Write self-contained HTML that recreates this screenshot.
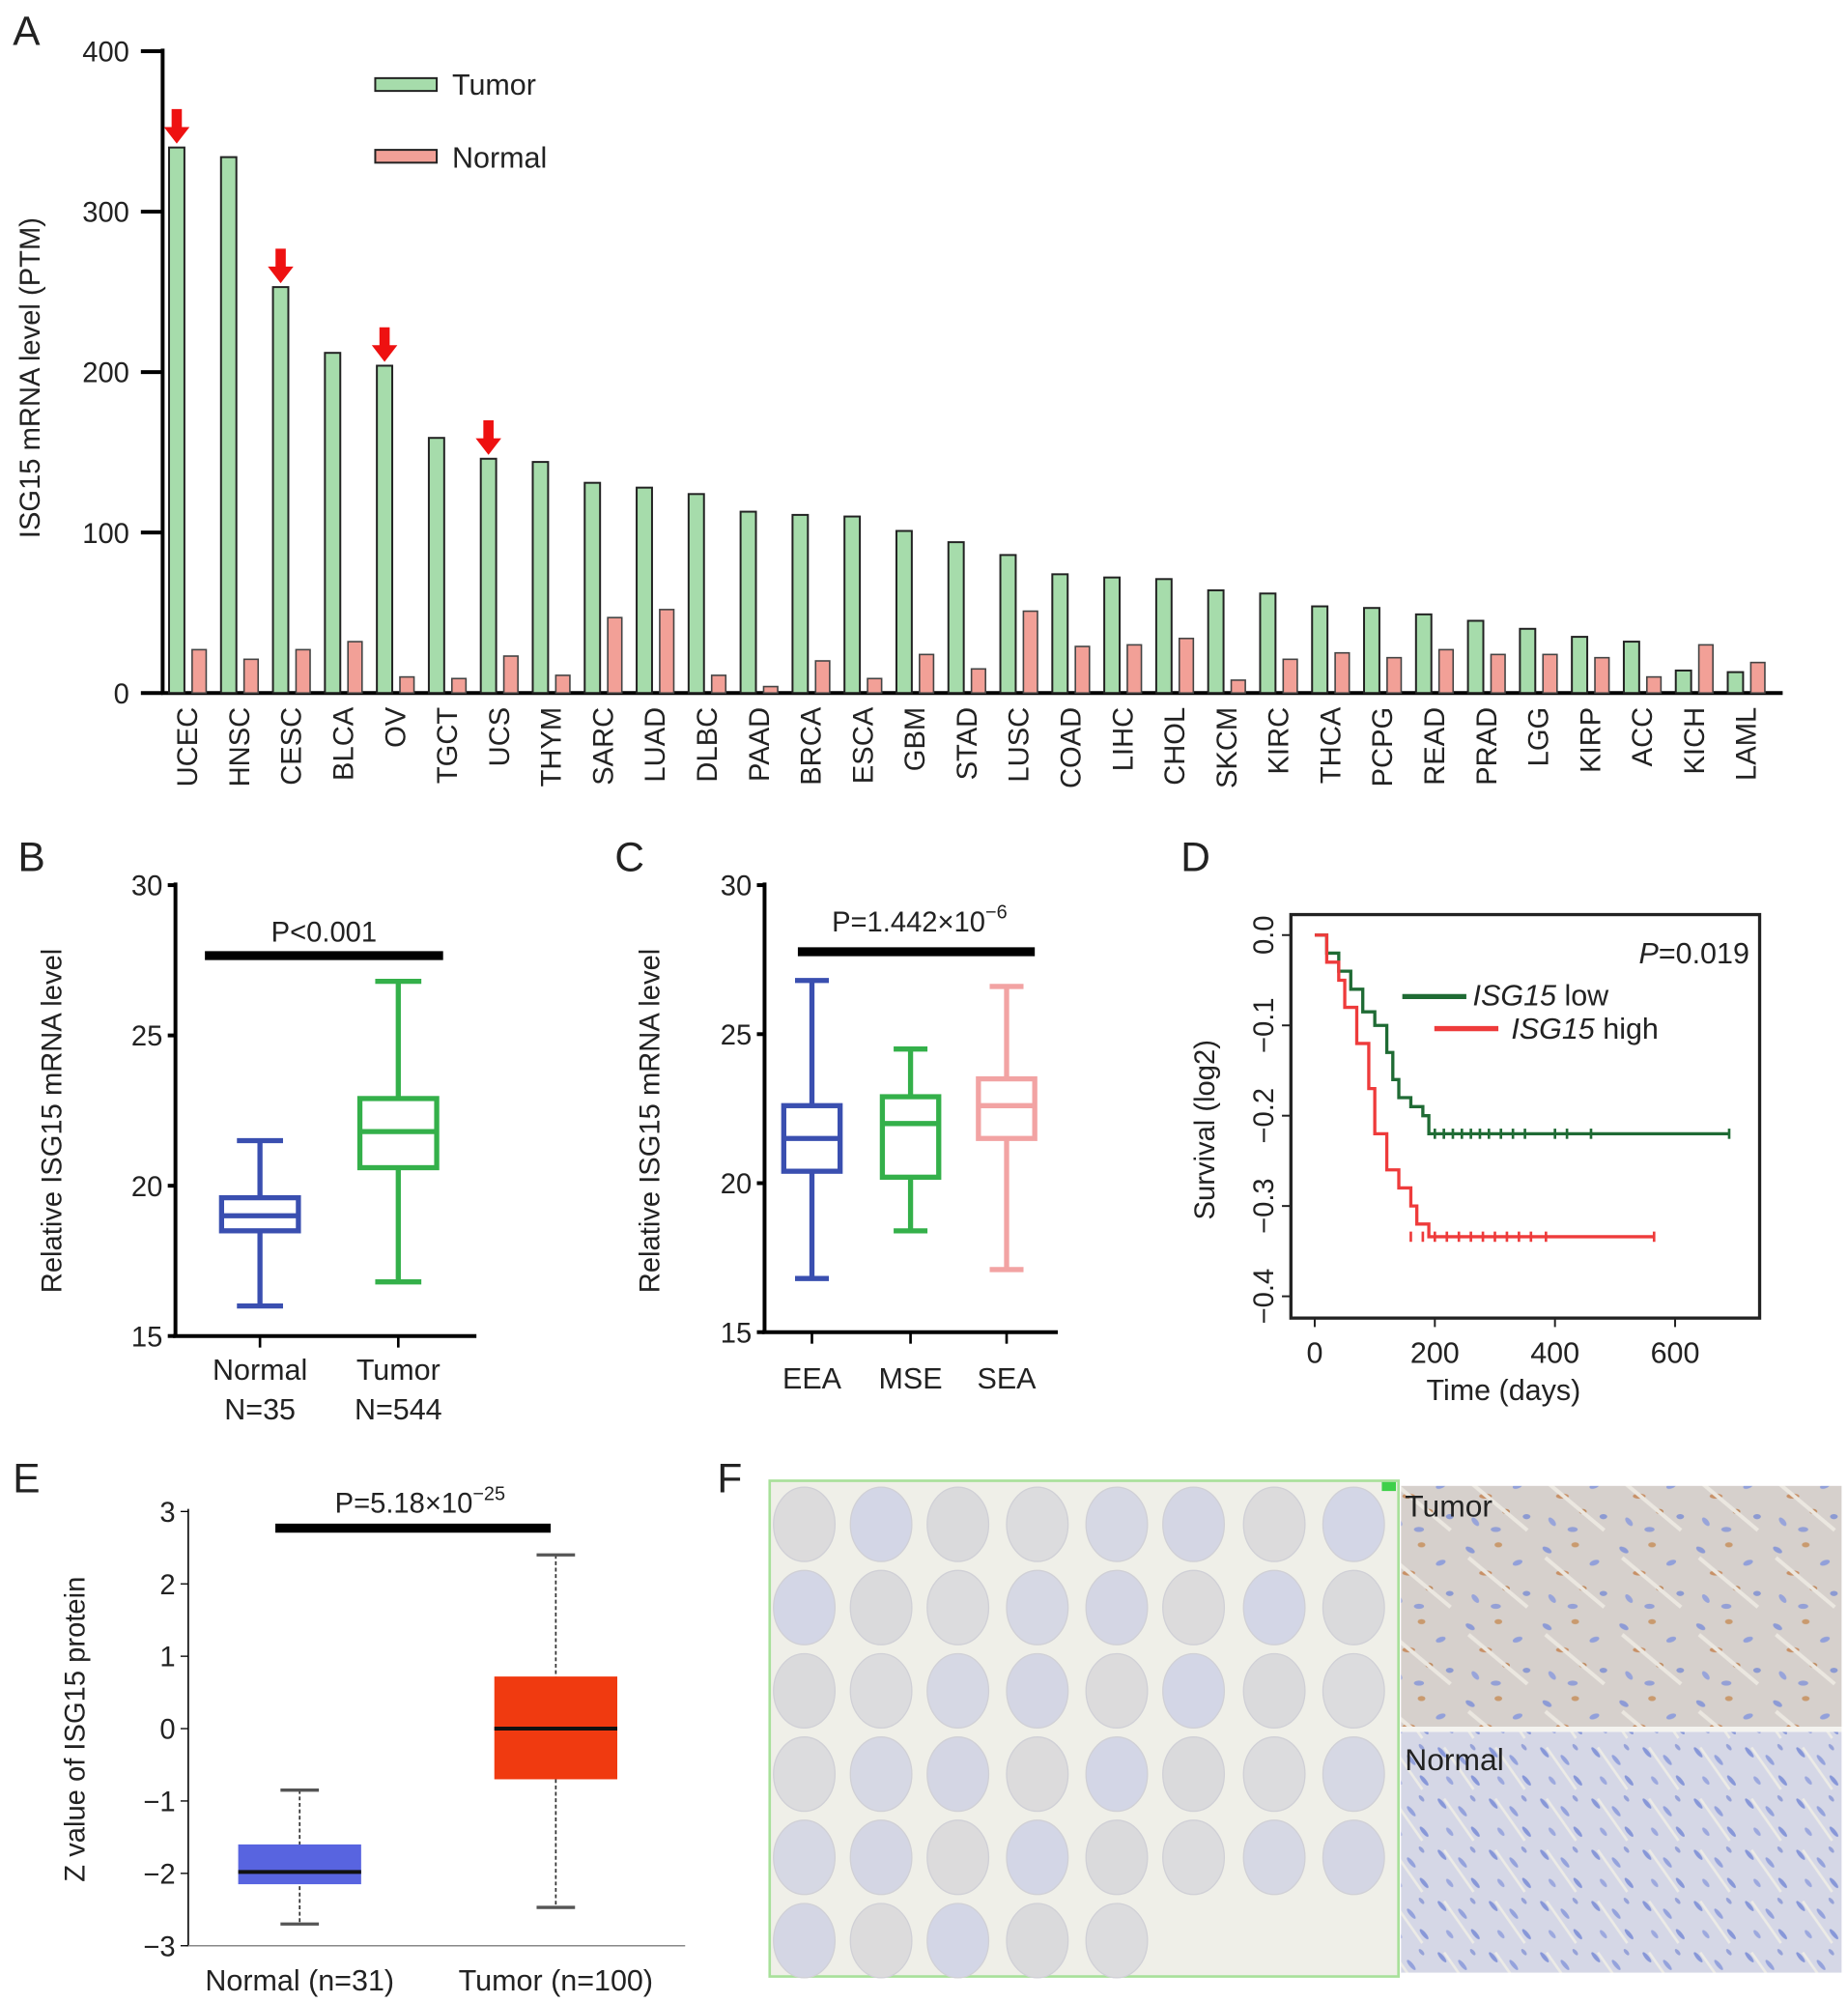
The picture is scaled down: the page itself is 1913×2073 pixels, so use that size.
<!DOCTYPE html>
<html><head><meta charset="utf-8"><style>
html,body{margin:0;padding:0;background:#fff}
svg{display:block}
text{font-family:"Liberation Sans",Arial,sans-serif;fill:#222}
</style></head><body>
<svg id="fig" width="1913" height="2073" viewBox="0 0 1443 1563.7" xmlns="http://www.w3.org/2000/svg">
<defs>
<pattern id="tumorTex" width="60" height="60" patternUnits="userSpaceOnUse">
<rect width="60" height="60" fill="#d6d0cc"/>
<ellipse cx="8" cy="10" rx="4" ry="2" fill="#8d9bd6" transform="rotate(30 8 10)"/>
<ellipse cx="30" cy="6" rx="3" ry="2" fill="#c99a6e"/>
<ellipse cx="45" cy="20" rx="4" ry="2" fill="#92a0da" transform="rotate(-20 45 20)"/>
<ellipse cx="20" cy="28" rx="5" ry="2" fill="#c89066"/>
<ellipse cx="52" cy="44" rx="3" ry="2" fill="#8c9ad2"/>
<ellipse cx="12" cy="48" rx="4" ry="2" fill="#98a4da" transform="rotate(50 12 48)"/>
<ellipse cx="36" cy="40" rx="3" ry="2" fill="#bf8b60"/>
<ellipse cx="28" cy="54" rx="4" ry="2" fill="#94a0d6"/>
<rect x="0" y="34" width="60" height="3" fill="#ebe7e0" transform="rotate(40 30 35)"/>
</pattern>
<pattern id="normalTex" width="40" height="40" patternUnits="userSpaceOnUse">
<rect width="40" height="40" fill="#d5d7e6"/>
<ellipse cx="6" cy="8" rx="5" ry="1.6" fill="#8797d8" transform="rotate(50 6 8)"/>
<ellipse cx="22" cy="14" rx="5" ry="1.6" fill="#94a2dc" transform="rotate(50 22 14)"/>
<ellipse cx="32" cy="30" rx="5" ry="1.6" fill="#8797d8" transform="rotate(50 32 30)"/>
<ellipse cx="12" cy="30" rx="4" ry="1.6" fill="#9ca8de" transform="rotate(50 12 30)"/>
<ellipse cx="30" cy="4" rx="3" ry="1.4" fill="#96a2d8" transform="rotate(50 30 4)"/>
<rect x="0" y="20" width="40" height="2" fill="#ecebe6" transform="rotate(55 20 20)"/>
</pattern>
</defs>

<text x="10" y="35" font-size="32">A</text>
<text x="14" y="680" font-size="32">B</text>
<text x="480" y="680" font-size="32">C</text>
<text x="922" y="680" font-size="32">D</text>
<text x="10" y="1165" font-size="32">E</text>
<text x="560" y="1165" font-size="32">F</text>

<g id="panelA"></g>
<g id="panelB"></g>
<g id="panelC"></g>
<g id="panelD"></g>
<g id="panelE"></g>

<g>
<rect x="601" y="1156" width="491" height="387" fill="#efefe8" stroke="#a8e09a" stroke-width="2"/>
<rect x="1079" y="1157" width="11" height="7" fill="#3fd04a"/>
<g id="tma"></g>
<rect x="1094" y="1160" width="344" height="188" fill="url(#tumorTex)"/>
<rect x="1094" y="1352" width="344" height="188" fill="url(#normalTex)"/>
<rect x="1094" y="1348" width="344" height="4" fill="#f4f3ef"/>
<text x="1097" y="1184" font-size="24" fill="#111">Tumor</text>
<text x="1097" y="1382" font-size="24" fill="#111">Normal</text>
</g>
</svg>
<script>
const NS="http://www.w3.org/2000/svg";
function mk(parent,tag,attrs,txt){const e=document.createElementNS(NS,tag);for(const k in attrs)e.setAttribute(k,attrs[k]);if(txt!==undefined)e.textContent=txt;parent.appendChild(e);return e;}

const catsA=["UCEC","HNSC","CESC","BLCA","OV","TGCT","UCS","THYM","SARC","LUAD","DLBC","PAAD","BRCA","ESCA","GBM","STAD","LUSC","COAD","LIHC","CHOL","SKCM","KIRC","THCA","PCPG","READ","PRAD","LGG","KIRP","ACC","KICH","LAML"];
const tumorA=[340,334,253,212,204,159,146,144,131,128,124,113,111,110,101,94,86,74,72,71,64,62,54,53,49,45,40,35,32,14,13];
const normalA=[27,21,27,32,10,9,23,11,47,52,11,4,20,9,24,15,51,29,30,34,8,21,25,22,27,24,24,22,10,30,19];
const arrowCatsA=["UCEC","CESC","OV","UCS"];
const ticksA=[0,100,200,300,400];

(function(){
 const g=document.getElementById('panelA');
 const y=v=>541-v*(501/400);
 const x=i=>138+i*40.57;
 mk(g,'line',{x1:127,y1:38,x2:127,y2:542,stroke:'#000','stroke-width':3});
 mk(g,'line',{x1:126,y1:541,x2:1392,y2:541,stroke:'#000','stroke-width':3});
 ticksA.forEach(t=>{
  const l=mk(g,'line',{x1:110,y1:y(t),x2:127,y2:y(t),stroke:'#000','stroke-width':3});
  
  const tx=mk(g,'text',{x:101,y:y(t)+8,'font-size':22,'text-anchor':'end'},String(t));
  
 });
 const yl=mk(g,'text',{x:0,y:0,'font-size':22,'text-anchor':'middle',transform:'translate(31,295) rotate(-90)'},'ISG15 mRNA level (PTM)');
 
 catsA.forEach((c,i)=>{
  const bt=mk(g,'rect',{x:x(i)-6,y:y(tumorA[i]),width:12,height:y(0)-y(tumorA[i]),fill:'#a6dcab',stroke:'#222','stroke-width':1.5});
  
  const bn=mk(g,'rect',{x:x(i)+12,y:y(normalA[i]),width:11,height:y(0)-y(normalA[i]),fill:'#f2a097',stroke:'#444','stroke-width':1.2});
  
  const tl=mk(g,'text',{x:0,y:0,'font-size':22,'text-anchor':'end',transform:`translate(${x(i)+16},552) rotate(-90)`},c);
  
  if(arrowCatsA.includes(c)){
   const yt=y(tumorA[i]);
   const a=mk(g,'path',{d:`M${x(i)-4},${yt-30} h8 v14 h6 l-10,13 l-10,-13 h6 z`,fill:'#ee1111'});
   
  }
 });
 const l1=mk(g,'rect',{x:293,y:61,width:48,height:10,fill:'#a6dcab',stroke:'#222','stroke-width':1.5});
 
 const l1t=mk(g,'text',{x:353,y:74,'font-size':23},'Tumor');
 
 const l2=mk(g,'rect',{x:293,y:117,width:48,height:10,fill:'#f2a097',stroke:'#222','stroke-width':1.5});
 
 const l2t=mk(g,'text',{x:353,y:131,'font-size':23},'Normal');
 
})();

const groupsB=["Normal","Tumor"];
const subLabelsB=["N=35","N=544"];
const minB=[16.0,16.8], q1B=[18.5,20.6], medB=[19.0,21.8], q3B=[19.6,22.9], maxB=[21.5,26.8];
const ticksB=[15,20,25,30];
const groupsC=["EEA","MSE","SEA"];
const minC=[16.8,18.4,17.1], q1C=[20.4,20.2,21.5], medC=[21.5,22.0,22.6], q3C=[22.6,22.9,23.5], maxC=[26.8,24.5,26.6];
const ticksC=[15,20,25,30];

function boxPanel(id,opt){
 const g=document.getElementById(id);
 const y=v=>opt.y0-(v-opt.vmin)*(opt.y0-opt.y1)/(opt.vmax-opt.vmin);
 mk(g,'line',{x1:opt.ax,y1:opt.y1-2,x2:opt.ax,y2:opt.y0,stroke:'#000','stroke-width':opt.axw});
 mk(g,'line',{x1:opt.ax-2,y1:opt.y0,x2:opt.axEnd,y2:opt.y0,stroke:opt.xcol||'#000','stroke-width':opt.axw});
 opt.ticks.forEach(t=>{
  const l=mk(g,'line',{x1:opt.ax-6,y1:y(t),x2:opt.ax,y2:y(t),stroke:'#000','stroke-width':opt.axw>2?3:1});
  
  const tx=mk(g,'text',{x:opt.ax-10,y:y(t)+8,'font-size':22,'text-anchor':'end'},opt.tickFmt?opt.tickFmt(t):String(t));
  
 });
 const yl=mk(g,'text',{x:0,y:0,'font-size':22,'text-anchor':'middle',transform:`translate(${opt.ylx},${opt.yly}) rotate(-90)`},opt.ytitle);
 
 opt.groups.forEach((gname,i)=>{
  const cx=opt.xs[i], w=opt.bw, col=opt.colors[i];
  const name=gname.toLowerCase();
  if(opt.style==='prism'){
   const wh=mk(g,'line',{x1:cx,y1:y(opt.max[i]),x2:cx,y2:y(opt.min[i]),stroke:col,'stroke-width':4});
   
   [opt.max[i],opt.min[i]].forEach(v=>{const c=mk(g,'line',{x1:cx-w*0.3,y1:y(v),x2:cx+w*0.3,y2:y(v),stroke:col,'stroke-width':4});});
   const b=mk(g,'rect',{x:cx-w/2,y:y(opt.q3[i]),width:w,height:y(opt.q1[i])-y(opt.q3[i]),fill:'#fff',stroke:col,'stroke-width':4});
   
   const m=mk(g,'line',{x1:cx-w/2,y1:y(opt.med[i]),x2:cx+w/2,y2:y(opt.med[i]),stroke:col,'stroke-width':4});
   
   const tk=mk(g,'line',{x1:cx,y1:opt.y0,x2:cx,y2:opt.y0+9,stroke:'#000','stroke-width':2});
   
  } else {
   const wh=mk(g,'line',{x1:cx,y1:y(opt.max[i]),x2:cx,y2:y(opt.min[i]),stroke:'#333','stroke-width':1.3,'stroke-dasharray':'3,2'});
   
   [opt.max[i],opt.min[i]].forEach(v=>{const c=mk(g,'line',{x1:cx-15,y1:y(v),x2:cx+15,y2:y(v),stroke:'#555','stroke-width':2.5});});
   const b=mk(g,'rect',{x:cx-w/2,y:y(opt.q3[i]),width:w,height:y(opt.q1[i])-y(opt.q3[i]),fill:col});
   
   const m=mk(g,'line',{x1:cx-w/2,y1:y(opt.med[i]),x2:cx+w/2,y2:y(opt.med[i]),stroke:'#111','stroke-width':3});
   
  }
  const lt=mk(g,'text',{x:cx,y:opt.labY,'font-size':23,'text-anchor':'middle'},opt.labels[i]);
  
  if(opt.sub){const st=mk(g,'text',{x:cx,y:opt.labY+31,'font-size':23,'text-anchor':'middle'},opt.sub[i]);}
 });
 const sb=mk(g,'line',{x1:opt.bar[0],y1:opt.bar[2],x2:opt.bar[1],y2:opt.bar[2],stroke:'#000','stroke-width':7});
 
 const pt=mk(g,'text',{x:opt.pxy[0],y:opt.pxy[1],'font-size':22,'text-anchor':'middle'});
 
 pt.innerHTML=opt.ptext;
}

boxPanel('panelB',{ax:137,axEnd:372,y0:1043,y1:691,vmin:15,vmax:30,axw:3,ticks:ticksB,ylx:48,yly:875,ytitle:'Relative ISG15 mRNA level',
 groups:groupsB,labels:groupsB,sub:subLabelsB,xs:[203,311],bw:60,colors:['#3a4fb0','#34b04a'],style:'prism',
 min:minB,q1:q1B,med:medB,q3:q3B,max:maxB,labY:1077,bar:[160,346,746],pxy:[253,735],ptext:'P&lt;0.001'});
boxPanel('panelC',{ax:597,axEnd:826,y0:1040,y1:691,vmin:15,vmax:30,axw:3,ticks:ticksC,ylx:515,yly:875,ytitle:'Relative ISG15 mRNA level',
 groups:groupsC,labels:groupsC,xs:[634,711,786],bw:44,colors:['#3a4fb0','#34b04a','#f2a3a3'],style:'prism',
 min:minC,q1:q1C,med:medC,q3:q3C,max:maxC,labY:1084,bar:[623,808,743],pxy:[718,727],ptext:'P=1.442×10<tspan dy="-10" font-size="15">−6</tspan>'});

const groupsE=["Normal (n=31)","Tumor (n=100)"];
const minE=[-2.7,-2.47], q1E=[-2.15,-0.7], medE=[-1.98,0], q3E=[-1.6,0.72], maxE=[-0.85,2.4];
const ticksE=[-3,-2,-1,0,1,2,3];
boxPanel('panelE',{ax:147,axEnd:535,y0:1519,y1:1180,vmin:-3,vmax:3,axw:1.2,xcol:'#888',ticks:ticksE,ylx:66,yly:1350,ytitle:'Z value of ISG15 protein',
 tickFmt:t=>t<0?'−'+Math.abs(t):String(t),
 groups:['normal','tumor'],labels:groupsE,xs:[234,434],bw:96,colors:['#5864e0','#f03a10'],style:'ualcan',
 min:minE,q1:q1E,med:medE,q3:q3E,max:maxE,labY:1554,bar:[215,430,1193],pxy:[328,1181],ptext:'P=5.18×10<tspan dy="-10" font-size="15">−25</tspan>'});

const lowDays=[0,20,40,60,80,100,120,130,140,160,180,190,690];
const lowSurv=[0,-0.02,-0.04,-0.06,-0.085,-0.1,-0.13,-0.16,-0.18,-0.19,-0.2,-0.22,-0.22];
const highDays=[0,20,40,50,70,90,100,120,140,160,170,190,565];
const highSurv=[0,-0.03,-0.05,-0.08,-0.12,-0.17,-0.22,-0.26,-0.28,-0.3,-0.32,-0.334,-0.334];
const lowCensor=[200,215,230,245,260,275,290,310,330,350,400,420,460,690];
const highCensor=[160,180,200,220,240,260,280,300,320,340,360,385,565];
const ticksDx=[0,200,400,600];
const ticksDy=[0,-0.1,-0.2,-0.3,-0.4];
(function(){
 const g=document.getElementById('panelD');
 const x=d=>1026.6+d*0.469;
 const y=s=>730-s*705;
 const fr=mk(g,'rect',{x:1008,y:714,width:366,height:315,fill:'none',stroke:'#222','stroke-width':2.5});
 
 ticksDx.forEach(t=>{
  const l=mk(g,'line',{x1:x(t),y1:1029,x2:x(t),y2:1036,stroke:'#222','stroke-width':1.5});
  const tx=mk(g,'text',{x:x(t),y:1064,'font-size':23,'text-anchor':'middle'},String(t));
 });
 ticksDy.forEach(t=>{
  const l=mk(g,'line',{x1:1001,y1:y(t),x2:1008,y2:y(t),stroke:'#222','stroke-width':1.5});
  const lab=t===0?'0.0':'−'+Math.abs(t).toFixed(1);
  const tx=mk(g,'text',{x:0,y:0,'font-size':22,'text-anchor':'middle',transform:`translate(994,${y(t)}) rotate(-90)`},lab);
 });
 const xt=mk(g,'text',{x:1174,y:1093,'font-size':23,'text-anchor':'middle'},'Time (days)');
 const yt=mk(g,'text',{x:0,y:0,'font-size':22,'text-anchor':'middle',transform:'translate(948,882) rotate(-90)'},'Survival (log2)');
 function curve(days,surv,cens,col,name){
  let d='M'+x(days[0])+','+y(surv[0]);
  for(let i=1;i<days.length;i++){d+=' H'+x(days[i])+' V'+y(surv[i]);}
  const p=mk(g,'path',{d:d,fill:'none',stroke:col,'stroke-width':2.5});
  
  const last=surv[surv.length-1];
  cens.forEach(c=>{const m=mk(g,'line',{x1:x(c),y1:y(last)-4,x2:x(c),y2:y(last)+4,stroke:col,'stroke-width':2});});
 }
 curve(lowDays,lowSurv,lowCensor,'#1f6b34','low');
 curve(highDays,highSurv,highCensor,'#ee3b3b','high');
 const pv=mk(g,'text',{x:1366,y:752,'font-size':23,'text-anchor':'end'});pv.innerHTML='<tspan font-style="italic">P</tspan>=0.019';
 
 const a=mk(g,'line',{x1:1095,y1:778,x2:1145,y2:778,stroke:'#1f6b34','stroke-width':4});
 const at=mk(g,'text',{x:1150,y:785,'font-size':23});at.innerHTML='<tspan font-style="italic">ISG15</tspan> low';
 const b=mk(g,'line',{x1:1120,y1:803,x2:1170,y2:803,stroke:'#ee3b3b','stroke-width':4});
 const bt=mk(g,'text',{x:1180,y:811,'font-size':23});bt.innerHTML='<tspan font-style="italic">ISG15</tspan> high';
})();

(function(){
 const g=document.getElementById('tma');
 const cols=[628,688,748,810,872,932,995,1057], rows=[1190,1255,1320,1385,1450,1515];
 const fills=['#dcdbdc','#d3d6e6','#dadadc','#dcdcde','#d6d8e4','#d4d6e4'];
 rows.forEach((ry,r)=>cols.forEach((cx,c)=>{
  if(r===5&&c>4)return;
  const e=mk(g,'ellipse',{cx:cx,cy:ry,rx:24,ry:29,fill:fills[(r+c)%fills.length],stroke:'#d0d0d6','stroke-width':1});
  
  
 }));
})();
</script>
</body></html>
